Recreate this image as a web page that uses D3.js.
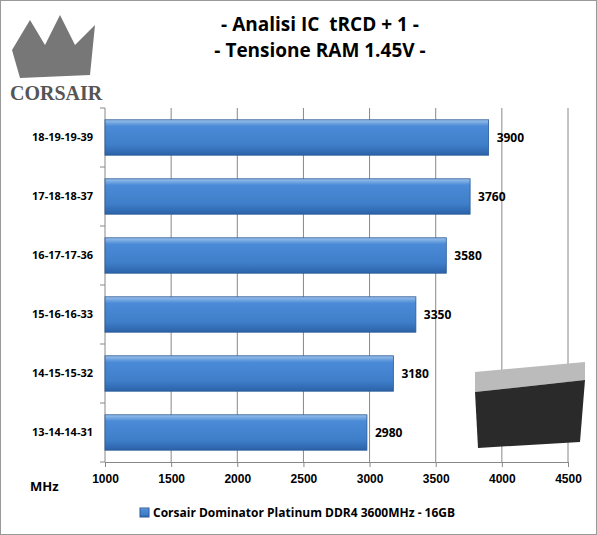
<!DOCTYPE html>
<html><head><meta charset="utf-8">
<script src="https://cdn.jsdelivr.net/npm/d3@7"></script>
<style>body{margin:0;background:#fff}svg{font-family:"Open Sans",sans-serif}</style>
</head><body><div id="chart"></div>
<script>
// dati
const categories = ["18-19-19-39","17-18-18-37","16-17-17-36","15-16-16-33","14-15-15-32","13-14-14-31"]
const values = [3900,3760,3580,3350,3180,2980]
const ticks = [1000,1500,2000,2500,3000,3500,4000,4500]
const seriesName = "Corsair Dominator Platinum DDR4 3600MHz - 16GB"

const width = 597, height = 535
const svg = d3.select("#chart").append("svg").attr("width", width).attr("height", height)

svg.append("rect").attr("x",0.5).attr("y",0.5).attr("width",width-1).attr("height",height-1)
    .attr("fill","#fff").attr("stroke","#999")

const defs = svg.append("defs")
const grad = defs.append("linearGradient").attr("id","bar").attr("x1",0).attr("y1",0).attr("x2",0).attr("y2",1)
grad.append("stop").attr("offset","0%").attr("stop-color","#9cc2ec")
grad.append("stop").attr("offset","18%").attr("stop-color","#4a8ad6")
grad.append("stop").attr("offset","70%").attr("stop-color","#3f7fca")
grad.append("stop").attr("offset","100%").attr("stop-color","#2b62a8")

// scale
const x = d3.scaleLinear().domain([1000,4500]).range([105,568])
const y = d3.scaleBand().domain(categories).range([108,462]).paddingInner(0.4).paddingOuter(0.2)

// griglia
svg.append("g").selectAll("line").data(ticks.slice(1)).join("line")
    .attr("x1",d=>x(d)).attr("x2",d=>x(d)).attr("y1",108).attr("y2",462)
    .attr("stroke","#888").attr("stroke-width",1)

// assi
const xAxisGroup = svg.append("g").attr("transform","translate(0,462)")
    .call(d3.axisBottom(x).tickValues(ticks).tickSize(5).tickFormat(d3.format("d")))
xAxisGroup.selectAll("text").attr("font-size",12).attr("font-weight","bold").attr("fill","#000").attr("dy","1.1em")
xAxisGroup.selectAll("line,path").attr("stroke","#888")

svg.append("line").attr("x1",105).attr("x2",105).attr("y1",108).attr("y2",462).attr("stroke","#888")
svg.append("g").selectAll("line").data(d3.range(7)).join("line")
    .attr("x1",100).attr("x2",105).attr("y1",d=>108+d*(354/6)).attr("y2",d=>108+d*(354/6)).attr("stroke","#888")

svg.append("g").selectAll("text").data(categories).join("text")
    .attr("x",93).attr("y",d=>y(d)+y.bandwidth()/2).attr("dy","0.35em")
    .attr("text-anchor","end").attr("font-size",11).attr("font-weight","bold").text(d=>d)

// barre
svg.append("g").selectAll("rect").data(values).join("rect")
    .attr("x",x(1000)).attr("y",(d,i)=>y(categories[i]))
    .attr("width",d=>x(d)-x(1000)).attr("height",y.bandwidth())
    .attr("fill","url(#bar)").attr("stroke","#2a5a96").attr("stroke-width",0.8)

svg.append("g").selectAll("text").data(values).join("text")
    .attr("x",d=>x(d)+8).attr("y",(d,i)=>y(categories[i])+y.bandwidth()/2).attr("dy","0.35em")
    .attr("font-size",12).attr("font-weight","bold").text(d=>d)

// titolo
svg.append("text").attr("x",320).attr("y",31).attr("text-anchor","middle").style("white-space","pre")
    .attr("font-size",19).attr("font-weight","bold").text("- Analisi IC  tRCD + 1 -")
svg.append("text").attr("x",320).attr("y",57).attr("text-anchor","middle")
    .attr("font-size",19).attr("font-weight","bold").text("- Tensione RAM 1.45V -")

// logo
svg.append("text").attr("x",10).attr("y",100).attr("font-family","Liberation Serif,serif")
    .attr("font-size",20).attr("font-weight","bold").attr("fill","#555").text("CORSAIR")
svg.append("path").attr("d","M12 50 L30 20 L45 45 L60 15 L75 45 L95 25 L90 75 L20 78 Z").attr("fill","#777")

// RAM
svg.append("path").attr("d","M475 372 L585 362 L585 380 L475 392 Z").attr("fill","#bbb")
svg.append("path").attr("d","M475 392 L585 380 L580 442 L478 448 Z").attr("fill","#2a2a2a")

svg.append("text").attr("x",30).attr("y",491).attr("font-size",13).attr("font-weight","bold").text("MHz")

// legenda
svg.append("rect").attr("x",140).attr("y",508).attr("width",9).attr("height",9).attr("fill","url(#bar)").attr("stroke","#2a5a96")
svg.append("text").attr("x",153).attr("y",517).attr("font-size",12).attr("font-weight","bold").text(seriesName)
</script></body></html>
